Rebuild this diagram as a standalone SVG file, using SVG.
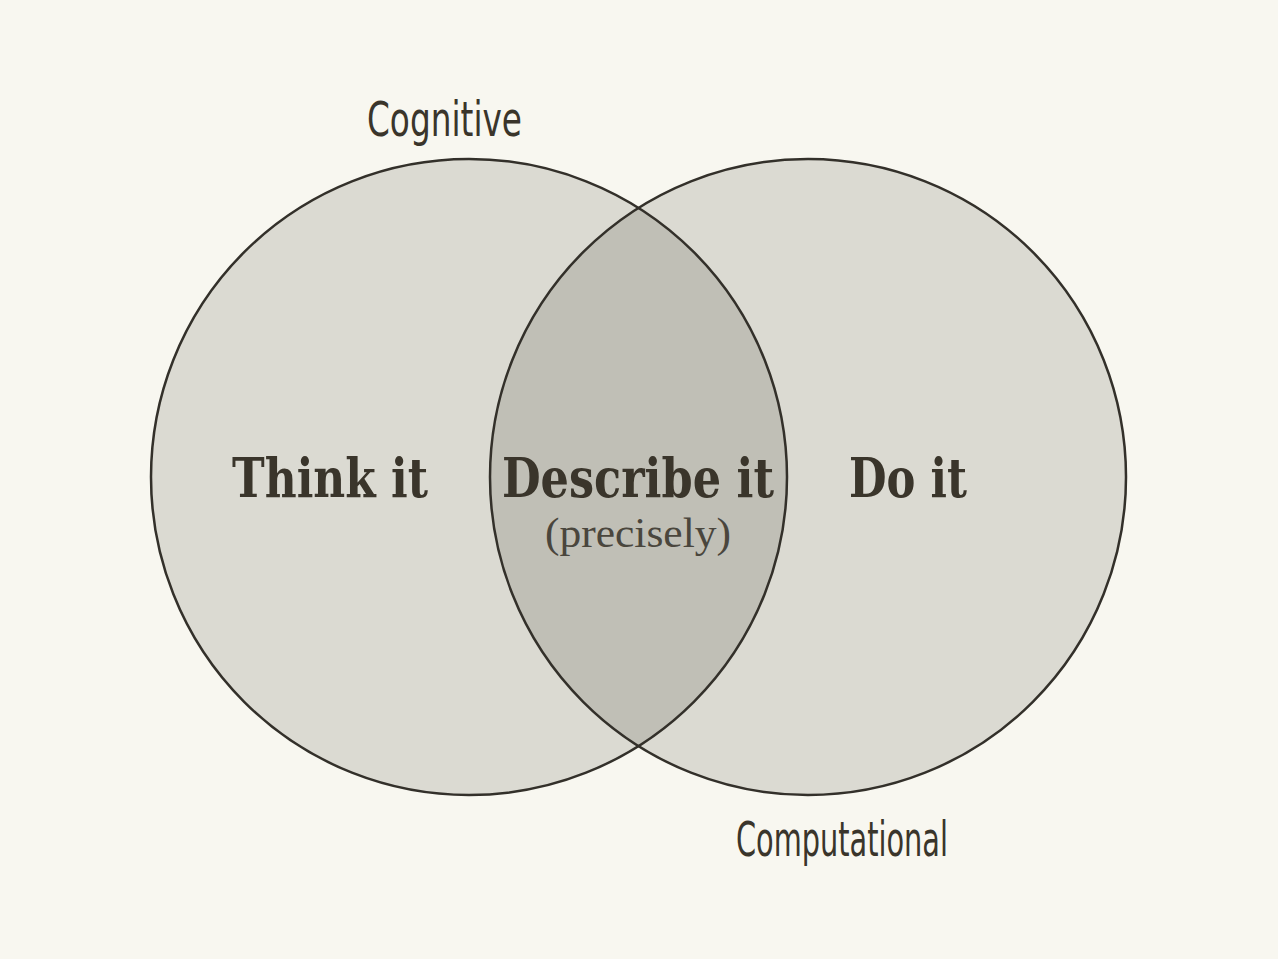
<svg xmlns="http://www.w3.org/2000/svg" width="1278" height="959" viewBox="0 0 1278 959">
<style>
.circ{fill:#dbdad2;stroke:none}
.outline{fill:none;stroke:#33302a;stroke-width:2.5}
.lens{fill:#c0bfb6}
.lbl{font-family:"DejaVu Sans","Liberation Sans",sans-serif;font-stretch:condensed;fill:#3a352b;font-size:48px}
.big{font-family:"DejaVu Serif","Liberation Serif",serif;font-weight:bold;fill:#3a352b;font-size:54px}
.sub{font-family:"Liberation Serif","DejaVu Serif",serif;fill:#4a463d;font-size:42px}
</style>
<rect width="1278" height="959" fill="#f8f7f0"/>
<g id="cognitive">
<circle class="circ" cx="469" cy="477" r="318"/>
</g>
<g id="computational">
<circle class="circ" cx="808" cy="477" r="318"/>
</g>
<g id="intersection">
<path class="lens" d="M638.5 207.9 A318 318 0 0 1 638.5 746.1 A318 318 0 0 1 638.5 207.9 Z"/>
</g>
<g id="outlines">
<circle class="outline" cx="469" cy="477" r="318"/>
<circle class="outline" cx="808" cy="477" r="318"/>
</g>
<g id="labels">
<text class="lbl" x="367" y="136" textLength="155" lengthAdjust="spacingAndGlyphs">Cognitive</text>
<text class="lbl" x="736" y="856" textLength="212" lengthAdjust="spacingAndGlyphs">Computational</text>
<text class="big" x="232" y="497" textLength="196" lengthAdjust="spacingAndGlyphs">Think it</text>
<text class="big" x="502" y="497" textLength="272" lengthAdjust="spacingAndGlyphs">Describe it</text>
<text class="big" x="849" y="497" textLength="118" lengthAdjust="spacingAndGlyphs">Do it</text>
<text class="sub" x="545" y="547" textLength="186" lengthAdjust="spacingAndGlyphs">(precisely)</text>
</g>
</svg>
